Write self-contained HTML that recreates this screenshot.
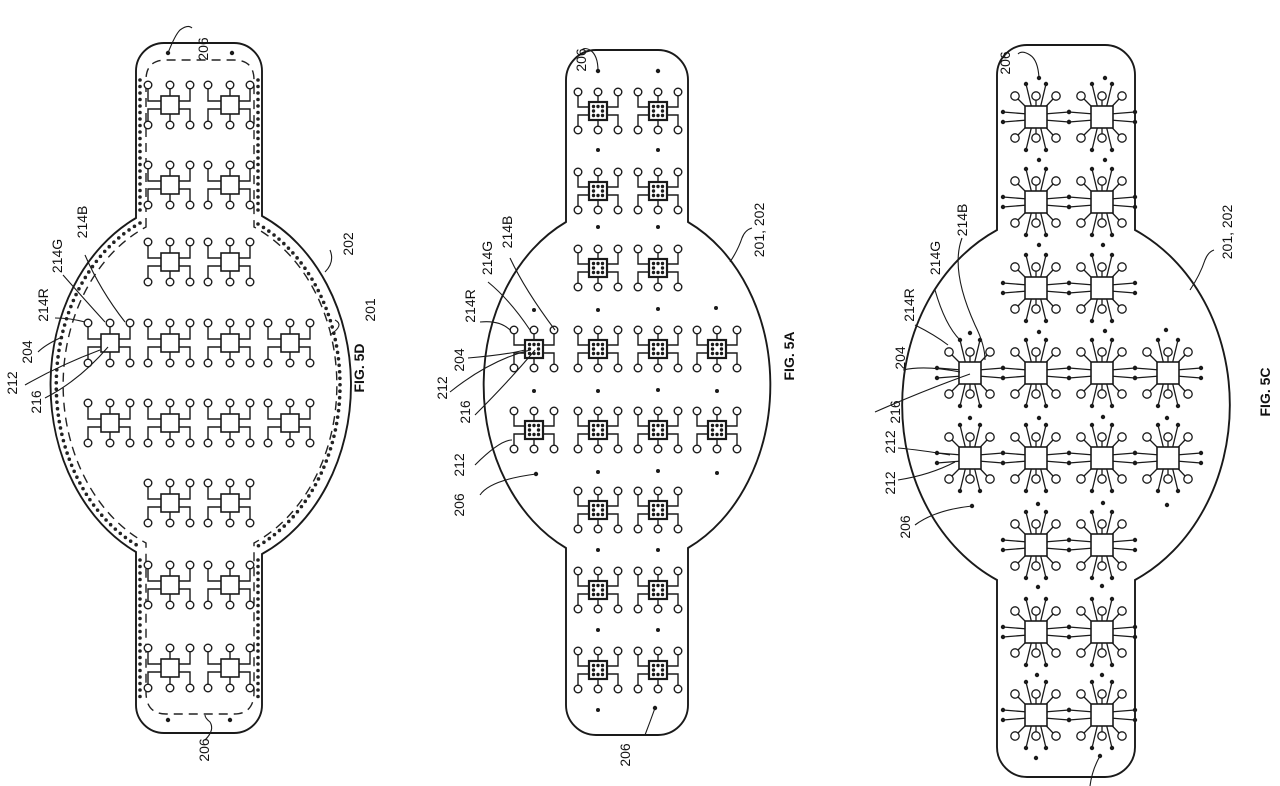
<!DOCTYPE html>
<html><head><meta charset="utf-8"><style>
html,body{margin:0;padding:0;background:#fff;}
svg{display:block;}
text{font-family:"Liberation Sans",sans-serif;font-size:14px;fill:#111;}
</style></head><body>
<svg width="1280" height="786" viewBox="0 0 1280 786" xmlns="http://www.w3.org/2000/svg">
<defs>
<g id="uD" stroke="#1a1a1a" stroke-width="1.4" fill="none">
<path d="M-9,-4H-22V-16M-9,4H-22V16M9,-4H20V-16M9,4H20V16M0,-9V-16M0,9V16"/>
<rect x="-9" y="-9" width="18" height="18" fill="#fff" stroke-width="1.6"/>
<g fill="#fff"><circle cx="-22" cy="-20" r="3.8"/><circle cx="0" cy="-20" r="3.8"/><circle cx="20" cy="-20" r="3.8"/><circle cx="-22" cy="20" r="3.8"/><circle cx="0" cy="20" r="3.8"/><circle cx="20" cy="20" r="3.8"/></g>
</g>
<g id="uA" stroke="#1a1a1a" stroke-width="1.4" fill="none">
<path d="M-9,-4H-20V-15M-9,4H-20V15M9,-4H20V-15M9,4H20V15M0,-9V-15M0,9V15"/>
<rect x="-9" y="-9" width="18" height="18" fill="#fff" stroke-width="2.2"/>
<g fill="#1a1a1a" stroke="none"><circle cx="-4.5" cy="-4.5" r="1.7"/><circle cx="0" cy="-4.5" r="1.7"/><circle cx="4.5" cy="-4.5" r="1.7"/><circle cx="-4.5" cy="0" r="1.7"/><circle cx="4.5" cy="0" r="1.7"/><circle cx="-4.5" cy="4.5" r="1.7"/><circle cx="0" cy="4.5" r="1.7"/><circle cx="4.5" cy="4.5" r="1.7"/></g>
<g fill="#fff"><circle cx="-20" cy="-19" r="3.8"/><circle cx="0" cy="-19" r="3.8"/><circle cx="20" cy="-19" r="3.8"/><circle cx="-20" cy="19" r="3.8"/><circle cx="0" cy="19" r="3.8"/><circle cx="20" cy="19" r="3.8"/></g>
</g>
<g id="uC" stroke="#1a1a1a" stroke-width="1.3" fill="none">
<path d="M0,0L-18,-18M0,0L0,-17M0,0L17,-18M0,0L-18,18M0,0L0,17M0,0L17,18M-4,-8L-10,-33M4,-8L10,-33M-4,8L-10,33M4,8L10,33M-8,-3L-33,-5M-8,3L-33,5M8,-3L33,-5M8,3L33,5"/>
<rect x="-11" y="-11" width="22" height="22" fill="#fff" stroke-width="1.6"/>
<g fill="#fff"><circle cx="-21" cy="-21" r="4.2"/><circle cx="0" cy="-21" r="4.2"/><circle cx="20" cy="-21" r="4.2"/><circle cx="-21" cy="21" r="4.2"/><circle cx="0" cy="21" r="4.2"/><circle cx="20" cy="21" r="4.2"/></g>
<g fill="#1a1a1a" stroke="none"><circle cx="-10" cy="-33" r="2.2"/><circle cx="10" cy="-33" r="2.2"/><circle cx="-10" cy="33" r="2.2"/><circle cx="10" cy="33" r="2.2"/><circle cx="-33" cy="-5" r="2.2"/><circle cx="-33" cy="5" r="2.2"/><circle cx="33" cy="-5" r="2.2"/><circle cx="33" cy="5" r="2.2"/></g>
</g>
</defs>

<!-- ===== FIG 5D ===== -->
<path d="M164,43H234A28,28 0 0 1 262,71V216A150,185 0 0 1 262,554V705A28,28 0 0 1 234,733H164A28,28 0 0 1 136,705V552A150,185 0 0 1 136,218V71A28,28 0 0 1 164,43Z" fill="none" stroke="#1a1a1a" stroke-width="1.9"/>
<path d="M146,227V80Q146,60 166,60H234Q254,60 254,80V227A137,172 0 0 1 254,543V692Q254,714 234,714H166Q146,714 146,692V543A137,172 0 0 1 146,227Z" fill="none" stroke="#222" stroke-width="1.4" stroke-dasharray="9,6"/>
<g fill="none" stroke="#222" stroke-width="3.6" stroke-linecap="round" stroke-dasharray="0,6.5">
<path d="M140,80V212"/><path d="M258,80V212"/><path d="M140,560V700"/><path d="M258,560V700"/>
<path d="M140,223A143,178 0 0 0 140,547"/><path d="M258,224A143,178 0 0 1 258,546"/>
</g>
<circle cx="168" cy="53" r="2.2" fill="#1a1a1a"/><circle cx="232" cy="53" r="2.2" fill="#1a1a1a"/>
<circle cx="168" cy="720" r="2.2" fill="#1a1a1a"/><circle cx="230" cy="720" r="2.2" fill="#1a1a1a"/>
<g>
<use href="#uD" x="170" y="105"/><use href="#uD" x="230" y="105"/>
<use href="#uD" x="170" y="185"/><use href="#uD" x="230" y="185"/>
<use href="#uD" x="170" y="262"/><use href="#uD" x="230" y="262"/>
<use href="#uD" x="110" y="343"/><use href="#uD" x="170" y="343"/><use href="#uD" x="230" y="343"/><use href="#uD" x="290" y="343"/>
<use href="#uD" x="110" y="423"/><use href="#uD" x="170" y="423"/><use href="#uD" x="230" y="423"/><use href="#uD" x="290" y="423"/>
<use href="#uD" x="170" y="503"/><use href="#uD" x="230" y="503"/>
<use href="#uD" x="170" y="585"/><use href="#uD" x="230" y="585"/>
<use href="#uD" x="170" y="668"/><use href="#uD" x="230" y="668"/>
</g>
<g fill="none" stroke="#1a1a1a" stroke-width="1.1">
<path d="M168,53Q175,35 180,30Q188,24 192,28"/>
<path d="M205,740Q215,730 210,722Q205,718 205,715"/>
<path d="M330,250Q335,262 325,272"/>
<path d="M335,320Q345,325 330,335"/>
<path d="M85,255Q100,290 125,322"/>
<path d="M63,275Q85,300 105,322"/>
<path d="M55,318Q70,318 85,322"/>
<path d="M38,352Q45,345 60,338"/>
<path d="M25,385Q60,365 100,350"/>
<path d="M45,398Q80,380 108,347"/>
</g>
<g>
<text transform="translate(208,49) rotate(-90)" text-anchor="middle">206</text>
<text transform="translate(209,750) rotate(-90)" text-anchor="middle">206</text>
<text transform="translate(353,244) rotate(-90)" text-anchor="middle">202</text>
<text transform="translate(375,310) rotate(-90)" text-anchor="middle">201</text>
<text transform="translate(364,368) rotate(-90)" text-anchor="middle" font-weight="bold" font-size="14">FIG. 5D</text>
<text transform="translate(87,222) rotate(-90)" text-anchor="middle">214B</text>
<text transform="translate(62,256) rotate(-90)" text-anchor="middle">214G</text>
<text transform="translate(48,305) rotate(-90)" text-anchor="middle">214R</text>
<text transform="translate(32,352) rotate(-90)" text-anchor="middle">204</text>
<text transform="translate(17,383) rotate(-90)" text-anchor="middle">212</text>
<text transform="translate(41,402) rotate(-90)" text-anchor="middle">216</text>
</g>

<!-- ===== FIG 5A ===== -->
<path d="M596,50H658A30,30 0 0 1 688,80V222A143,180 0 0 1 688,548V705A30,30 0 0 1 658,735H596A30,30 0 0 1 566,705V548A143,180 0 0 1 566,222V80A30,30 0 0 1 596,50Z" fill="none" stroke="#1a1a1a" stroke-width="1.9"/>
<g>
<use href="#uA" x="598" y="111"/><use href="#uA" x="658" y="111"/>
<use href="#uA" x="598" y="191"/><use href="#uA" x="658" y="191"/>
<use href="#uA" x="598" y="268"/><use href="#uA" x="658" y="268"/>
<use href="#uA" x="534" y="349"/><use href="#uA" x="598" y="349"/><use href="#uA" x="658" y="349"/><use href="#uA" x="717" y="349"/>
<use href="#uA" x="534" y="430"/><use href="#uA" x="598" y="430"/><use href="#uA" x="658" y="430"/><use href="#uA" x="717" y="430"/>
<use href="#uA" x="598" y="510"/><use href="#uA" x="658" y="510"/>
<use href="#uA" x="598" y="590"/><use href="#uA" x="658" y="590"/>
<use href="#uA" x="598" y="670"/><use href="#uA" x="658" y="670"/>
</g>
<g fill="#1a1a1a">
<circle cx="598" cy="71" r="2.2"/><circle cx="658" cy="71" r="2.2"/>
<circle cx="598" cy="150" r="2"/><circle cx="658" cy="150" r="2"/>
<circle cx="598" cy="227" r="2"/><circle cx="658" cy="227" r="2"/>
<circle cx="534" cy="310" r="2"/><circle cx="598" cy="310" r="2"/><circle cx="658" cy="309" r="2"/><circle cx="716" cy="308" r="2"/>
<circle cx="534" cy="391" r="2"/><circle cx="598" cy="391" r="2"/><circle cx="658" cy="390" r="2"/><circle cx="717" cy="391" r="2"/>
<circle cx="536" cy="474" r="2.2"/><circle cx="598" cy="472" r="2"/><circle cx="658" cy="471" r="2"/><circle cx="717" cy="473" r="2"/>
<circle cx="598" cy="550" r="2"/><circle cx="658" cy="550" r="2"/>
<circle cx="598" cy="630" r="2"/><circle cx="658" cy="630" r="2"/>
<circle cx="598" cy="710" r="2"/><circle cx="655" cy="708" r="2.2"/>
</g>
<g fill="none" stroke="#1a1a1a" stroke-width="1.1">
<path d="M598,71Q598,55 590,50Q584,47 582,50"/>
<path d="M655,708Q650,722 645,735"/>
<path d="M730,262Q738,250 742,238Q745,230 752,228"/>
<path d="M510,258Q525,290 555,330"/>
<path d="M488,282Q510,300 530,330"/>
<path d="M480,322Q500,320 510,330"/>
<path d="M468,358Q505,355 525,350"/>
<path d="M450,392Q490,360 530,350"/>
<path d="M475,415Q510,380 535,350"/>
<path d="M475,465Q500,440 512,440"/>
<path d="M480,495Q490,480 536,474"/>
</g>
<g>
<text transform="translate(586,60) rotate(-90)" text-anchor="middle">206</text>
<text transform="translate(630,755) rotate(-90)" text-anchor="middle">206</text>
<text transform="translate(764,230) rotate(-90)" text-anchor="middle">201, 202</text>
<text transform="translate(794,356) rotate(-90)" text-anchor="middle" font-weight="bold" font-size="14">FIG. 5A</text>
<text transform="translate(512,232) rotate(-90)" text-anchor="middle">214B</text>
<text transform="translate(492,258) rotate(-90)" text-anchor="middle">214G</text>
<text transform="translate(475,306) rotate(-90)" text-anchor="middle">214R</text>
<text transform="translate(464,360) rotate(-90)" text-anchor="middle">204</text>
<text transform="translate(447,388) rotate(-90)" text-anchor="middle">212</text>
<text transform="translate(470,412) rotate(-90)" text-anchor="middle">216</text>
<text transform="translate(464,465) rotate(-90)" text-anchor="middle">212</text>
<text transform="translate(464,505) rotate(-90)" text-anchor="middle">206</text>
</g>

<!-- ===== FIG 5C ===== -->
<path d="M1027,45H1105A30,30 0 0 1 1135,75V230A164,193 0 0 1 1135,580V747A30,30 0 0 1 1105,777H1027A30,30 0 0 1 997,747V580A164,193 0 0 1 997,230V75A30,30 0 0 1 1027,45Z" fill="none" stroke="#1a1a1a" stroke-width="1.9"/>
<g>
<use href="#uC" x="1036" y="117"/><use href="#uC" x="1102" y="117"/>
<use href="#uC" x="1036" y="202"/><use href="#uC" x="1102" y="202"/>
<use href="#uC" x="1036" y="288"/><use href="#uC" x="1102" y="288"/>
<use href="#uC" x="970" y="373"/><use href="#uC" x="1036" y="373"/><use href="#uC" x="1102" y="373"/><use href="#uC" x="1168" y="373"/>
<use href="#uC" x="970" y="458"/><use href="#uC" x="1036" y="458"/><use href="#uC" x="1102" y="458"/><use href="#uC" x="1168" y="458"/>
<use href="#uC" x="1036" y="545"/><use href="#uC" x="1102" y="545"/>
<use href="#uC" x="1036" y="632"/><use href="#uC" x="1102" y="632"/>
<use href="#uC" x="1036" y="715"/><use href="#uC" x="1102" y="715"/>
</g>
<g fill="#1a1a1a">
<circle cx="1039" cy="78" r="2.2"/><circle cx="1105" cy="78" r="2.2"/>
<circle cx="1039" cy="160" r="2.2"/><circle cx="1105" cy="160" r="2.2"/>
<circle cx="1039" cy="245" r="2.2"/><circle cx="1103" cy="245" r="2.2"/>
<circle cx="970" cy="333" r="2.2"/><circle cx="1039" cy="332" r="2.2"/><circle cx="1105" cy="331" r="2.2"/><circle cx="1166" cy="330" r="2.2"/>
<circle cx="970" cy="418" r="2.2"/><circle cx="1039" cy="418" r="2.2"/><circle cx="1103" cy="417" r="2.2"/><circle cx="1167" cy="418" r="2.2"/>
<circle cx="972" cy="506" r="2.2"/><circle cx="1038" cy="504" r="2.2"/><circle cx="1103" cy="503" r="2.2"/><circle cx="1167" cy="505" r="2.2"/>
<circle cx="1038" cy="587" r="2.2"/><circle cx="1102" cy="586" r="2.2"/>
<circle cx="1037" cy="675" r="2.2"/><circle cx="1102" cy="675" r="2.2"/>
<circle cx="1036" cy="758" r="2.2"/><circle cx="1100" cy="756" r="2.2"/>
</g>
<g fill="none" stroke="#1a1a1a" stroke-width="1.1">
<path d="M1039,78Q1038,60 1030,55Q1022,50 1018,54"/>
<path d="M1100,756Q1092,770 1090,786"/>
<path d="M1190,290Q1200,275 1205,260Q1208,252 1214,250"/>
<path d="M962,238Q950,270 975,325Q985,345 985,360"/>
<path d="M935,290Q945,325 960,340"/>
<path d="M915,325Q935,335 948,345"/>
<path d="M903,370Q925,365 960,372"/>
<path d="M875,412Q925,390 970,374"/>
<path d="M898,448Q920,450 950,455"/>
<path d="M898,480Q930,475 955,462"/>
<path d="M915,525Q935,510 972,506"/>
</g>
<g>
<text transform="translate(1010,63) rotate(-90)" text-anchor="middle">206</text>
<text transform="translate(1232,232) rotate(-90)" text-anchor="middle">201, 202</text>
<text transform="translate(1270,392) rotate(-90)" text-anchor="middle" font-weight="bold" font-size="14">FIG. 5C</text>
<text transform="translate(967,220) rotate(-90)" text-anchor="middle">214B</text>
<text transform="translate(940,258) rotate(-90)" text-anchor="middle">214G</text>
<text transform="translate(914,305) rotate(-90)" text-anchor="middle">214R</text>
<text transform="translate(905,358) rotate(-90)" text-anchor="middle">204</text>
<text transform="translate(900,412) rotate(-90)" text-anchor="middle">216</text>
<text transform="translate(895,442) rotate(-90)" text-anchor="middle">212</text>
<text transform="translate(895,483) rotate(-90)" text-anchor="middle">212</text>
<text transform="translate(910,527) rotate(-90)" text-anchor="middle">206</text>
</g>
</svg>
</body></html>
